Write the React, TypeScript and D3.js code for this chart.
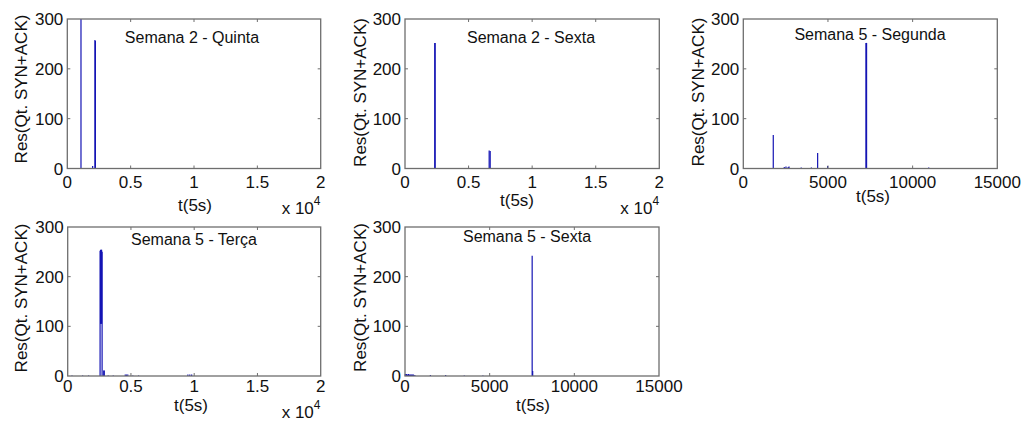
import React from 'react';
import * as d3 from 'd3';

// panel titles and x ranges
const titles = ['Semana 2 - Quinta', 'Semana 2 - Sexta', 'Semana 5 - Segunda', 'Semana 5 - Terça', 'Semana 5 - Sexta'];
const xMax = [20000, 20000, 15000, 20000, 15000];
const yTicks = [0, 100, 200, 300];
const xTicksLong = [0, 5000, 10000, 15000, 20000];
const xTickLabelsLong = ['0', '0.5', '1', '1.5', '2'];
const xTicksShort = [0, 5000, 10000, 15000];
const xTickLabelsShort = ['0', '5000', '10000', '15000'];

// Semana 2 - Quinta
const quintaT = [1080, 2000, 2180, 2220];
const quintaV = [300, 5, 258, 256];

// Semana 2 - Sexta
const sextaT = [2340, 2370, 6620, 6700];
const sextaV = [252, 252, 36, 35];

// Semana 5 - Segunda
const segundaT = [1770, 2420, 2520, 2650, 2700, 3420, 4020, 4390, 4980, 7240, 7280, 10950];
const segundaV = [67, 3, 4, 3, 4, 2, 2, 31, 5, 252, 252, 2];

// Semana 5 - Terça (lower end of each spike, most start at 0)
const tercaT = [340, 1180, 1650, 2560, 2600, 2640, 2680, 2720, 2850, 2890, 3200, 3600, 4550, 4650, 4750, 5150, 5600, 9500, 9650, 9800];
const tercaLo = [0, 0, 0, 0, 105, 105, 105, 0, 0, 0, 0, 0, 0, 0, 0, 0, 0, 0, 0, 0];
const tercaV = [1, 1, 1, 252, 254, 254, 254, 250, 11, 11, 1, 1, 3, 3, 3, 1, 1, 3, 3, 3];

// Semana 5 - Sexta
const sexta5T = [20, 80, 140, 200, 260, 320, 380, 440, 500, 580, 1500, 2400, 3500, 4600, 7510, 7540];
const sexta5V = [4, 4, 3, 4, 3, 3, 3, 3, 3, 2, 2, 2, 1, 1, 242, 10];

const seriesT = [quintaT, sextaT, segundaT, tercaT, sexta5T];
const seriesV = [quintaV, sextaV, segundaV, tercaV, sexta5V];
const seriesLo = [null, null, null, tercaLo, null];

// layout of each axes box and its labels
const boxes = [
  { l: 67.3, r: 320.7, t: 19, b: 168.5, titleX: 192, titleY: 43, xlabX: 195, xlabY: 211, ylabX: 21, ylabY: 89, expY: 214, xtY: 188 },
  { l: 405, r: 659.3, t: 19, b: 168.5, titleX: 531, titleY: 43, xlabX: 517, xlabY: 205.5, ylabX: 360, ylabY: 92.5, expY: 214, xtY: 188 },
  { l: 743.3, r: 997.3, t: 19, b: 168.5, titleX: 870, titleY: 40, xlabX: 873, xlabY: 201.5, ylabX: 698, ylabY: 92, expY: 0, xtY: 188 },
  { l: 67.7, r: 320.7, t: 227, b: 376, titleX: 194, titleY: 245, xlabX: 191, xlabY: 411, ylabX: 21, ylabY: 298, expY: 418, xtY: 392 },
  { l: 405, r: 659, t: 227, b: 376, titleX: 527, titleY: 241.5, xlabX: 533, xlabY: 411, ylabX: 360, ylabY: 297.5, expY: 0, xtY: 392 },
];

const font = 'Liberation Sans, Arial, sans-serif';
const frame = '#6e6e6e';
const lineColor = '#1414b4';

function Panel({ i }: { i: number }) {
  const b = boxes[i];
  const x = d3.scaleLinear().domain([0, xMax[i]]).range([b.l, b.r]);
  const y = d3.scaleLinear().domain([0, 300]).range([b.b, b.t]);
  const long = xMax[i] === 20000;
  const ticks = long ? xTicksLong : xTicksShort;
  const tickLabels = long ? xTickLabelsLong : xTickLabelsShort;
  const ts = seriesT[i];
  const vs = seriesV[i];
  const lo = seriesLo[i];
  return (
    <g>
      {ts.map((t, k) => (
        <line key={'s' + k} x1={x(t)} x2={x(t)} y1={y(lo ? lo[k] : 0)} y2={y(vs[k])}
          stroke={lineColor} strokeWidth={1.2} />
      ))}
      <rect x={b.l} y={b.t} width={b.r - b.l} height={b.b - b.t} fill="none" stroke={frame} strokeWidth={1.3} />
      {ticks.slice(1, -1).map((t) => (
        <g key={'xt' + t}>
          <line x1={x(t)} x2={x(t)} y1={b.b} y2={b.b - 3} stroke={frame} />
          <line x1={x(t)} x2={x(t)} y1={b.t} y2={b.t + 3} stroke={frame} />
        </g>
      ))}
      {yTicks.slice(1, -1).map((v) => (
        <g key={'yt' + v}>
          <line x1={b.l} x2={b.l + 3} y1={y(v)} y2={y(v)} stroke={frame} />
          <line x1={b.r} x2={b.r - 3} y1={y(v)} y2={y(v)} stroke={frame} />
        </g>
      ))}
      {ticks.map((t, k) => (
        <text key={'xl' + t} x={x(t)} y={b.xtY} textAnchor="middle" fontSize={17} fontFamily={font} fill="#111">
          {tickLabels[k]}
        </text>
      ))}
      {yTicks.map((v) => (
        <text key={'yl' + v} x={b.l - 4} y={y(v)} dy="0.36em" textAnchor="end" fontSize={17} fontFamily={font} fill="#111">
          {v}
        </text>
      ))}
      <text x={b.titleX} y={b.titleY} textAnchor="middle" fontSize={16} fontFamily={font} fill="#111">
        {titles[i]}
      </text>
      <text x={b.xlabX} y={b.xlabY} textAnchor="middle" fontSize={17} fontFamily={font} fill="#111">
        t(5s)
      </text>
      <text transform={`translate(${b.ylabX},${b.ylabY}) rotate(-90)`} dy="0.36em" textAnchor="middle" fontSize={17} fontFamily={font} fill="#111">
        Res(Qt. SYN+ACK)
      </text>
      {long && (
        <text x={b.r - 39} y={b.expY} fontSize={17} fontFamily={font} fill="#111">
          x 10<tspan dy={-9} fontSize={12}>4</tspan>
        </text>
      )}
    </g>
  );
}

export default function App() {
  return (
    <svg width={1024} height={422} style={{ position: 'absolute', left: 0, top: 0, background: '#fff' }}>
      <rect width={1024} height={422} fill="#fff" />
      {titles.map((_, i) => (
        <Panel key={i} i={i} />
      ))}
    </svg>
  );
}
